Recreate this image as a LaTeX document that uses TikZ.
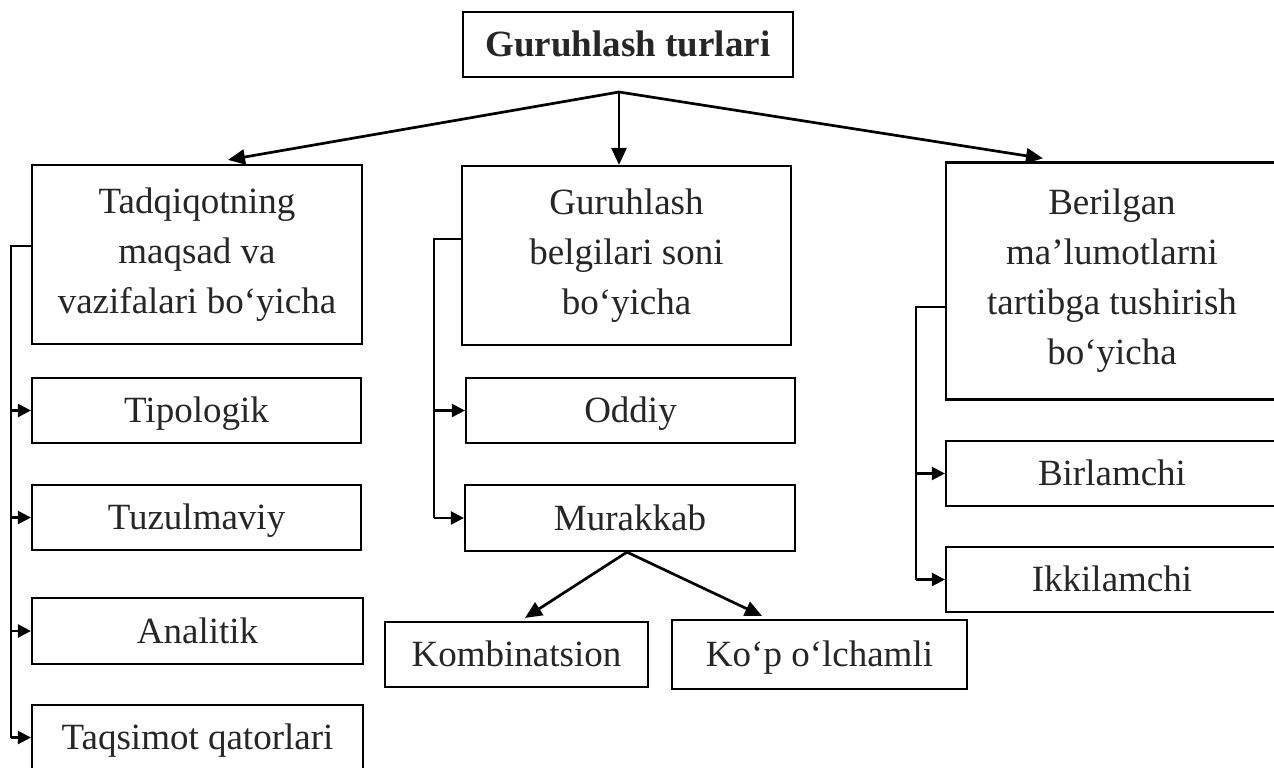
\documentclass[tikz,border=0pt]{standalone}
\usepackage{fontspec}
\setmainfont{Liberation Serif}
\usetikzlibrary{arrows.meta}
\begin{document}
\begin{tikzpicture}[x=0.5pt,y=-0.5pt,
  box/.style={draw, line width=1.1pt, inner sep=0pt, align=center,
    text=black!85, font=\fontsize{18.5pt}{25pt}\selectfont},
  onebox/.style={box, text height=16.7pt, text depth=4.5pt},
  titlebox/.style={onebox, font=\fontsize{18.5pt}{25pt}\selectfont\bfseries},
  mainarrow/.style={line width=1.35pt, -{Triangle[length=8.5pt,width=7.5pt]}},
  bracket/.style={line width=0.6pt},
  subarrow/.style={line width=1.2pt, -{Triangle[length=6.5pt,width=6.5pt]}},
]
\useasboundingbox[fill=white] (0,0) rectangle (1274,767);

% top level
\node[titlebox, minimum width=165pt, minimum height=32.5pt] (top) at (628,44.5) {Guruhlash turlari};
\coordinate (hub) at (619,92);

% three criteria
\node[box, minimum width=165pt, minimum height=89.5pt] (L) at (197,254.5)
  {Tadqiqotning\\maqsad va\\vazifalari bo‘yicha};
\node[box, minimum width=164.5pt, minimum height=89.5pt] (M) at (626.5,255.5)
  {Guruhlash\\belgilari soni\\bo‘yicha};
\node[box, minimum width=166pt, minimum height=118.5pt] (R) at (1112,281)
  {Berilgan\\ma’lumotlarni\\tartibga tushirish\\bo‘yicha};

% left column
\node[onebox, minimum width=164.5pt, minimum height=32.5pt] (T1) at (196.5,410.5) {Tipologik};
\node[onebox, minimum width=164.5pt, minimum height=32.5pt] (T2) at (196.5,517.5) {Tuzulmaviy};
\node[onebox, minimum width=165.5pt, minimum height=33pt] (T3) at (197.5,631) {Analitik};
\node[onebox, minimum width=165.5pt, minimum height=32.5pt] (T4) at (197.5,737.5) {Taqsimot qatorlari};

% middle column
\node[onebox, minimum width=164.5pt, minimum height=32.5pt] (O1) at (630.5,410.5) {Oddiy};
\node[onebox, minimum width=165pt, minimum height=33pt] (O2) at (630,518) {Murakkab};
\node[onebox, minimum width=131.5pt, minimum height=32.5pt] (K1) at (516.5,654.5) {Kombinatsion};
\node[onebox, minimum width=147.5pt, minimum height=34.5pt] (K2) at (819.5,654.5) {Ko‘p o‘lchamli};

% right column
\node[onebox, minimum width=166pt, minimum height=32.5pt] (B1) at (1112,473.5) {Birlamchi};
\node[onebox, minimum width=166pt, minimum height=32.5pt] (B2) at (1112,579.5) {Ikkilamchi};

% arrows from the title
\draw[mainarrow] (hub) -- ([xshift=15.5pt,yshift=2pt]L.north);
\draw[mainarrow] (hub) -- (hub |- M.north);
\draw[mainarrow] (hub) -- ([xshift=-34.5pt,yshift=1.5pt]R.north);

% arrows below Murakkab
\draw[mainarrow] ([xshift=-1.5pt]O2.south) -- ([xshift=4.25pt,yshift=1.5pt]K1.north);
\draw[mainarrow] ([xshift=-1.5pt]O2.south) -- ([xshift=-28.75pt,yshift=1.5pt]K2.north);

% side brackets
\coordinate (lb) at (11,246);
\draw[bracket] (L.west |- lb) -- (lb) -- (lb |- T4.west);
\foreach \n in {T1,T2,T3,T4} \draw[subarrow] (lb |- \n.west) -- (\n.west);

\coordinate (mb) at (434,239);
\draw[bracket] (M.west |- mb) -- (mb) -- (mb |- O2.west);
\foreach \n in {O1,O2} \draw[subarrow] (mb |- \n.west) -- (\n.west);

\coordinate (rb) at (916,307);
\draw[bracket] (R.west |- rb) -- (rb) -- (rb |- B2.west);
\foreach \n in {B1,B2} \draw[subarrow] (rb |- \n.west) -- (\n.west);
\end{tikzpicture}
\end{document}
